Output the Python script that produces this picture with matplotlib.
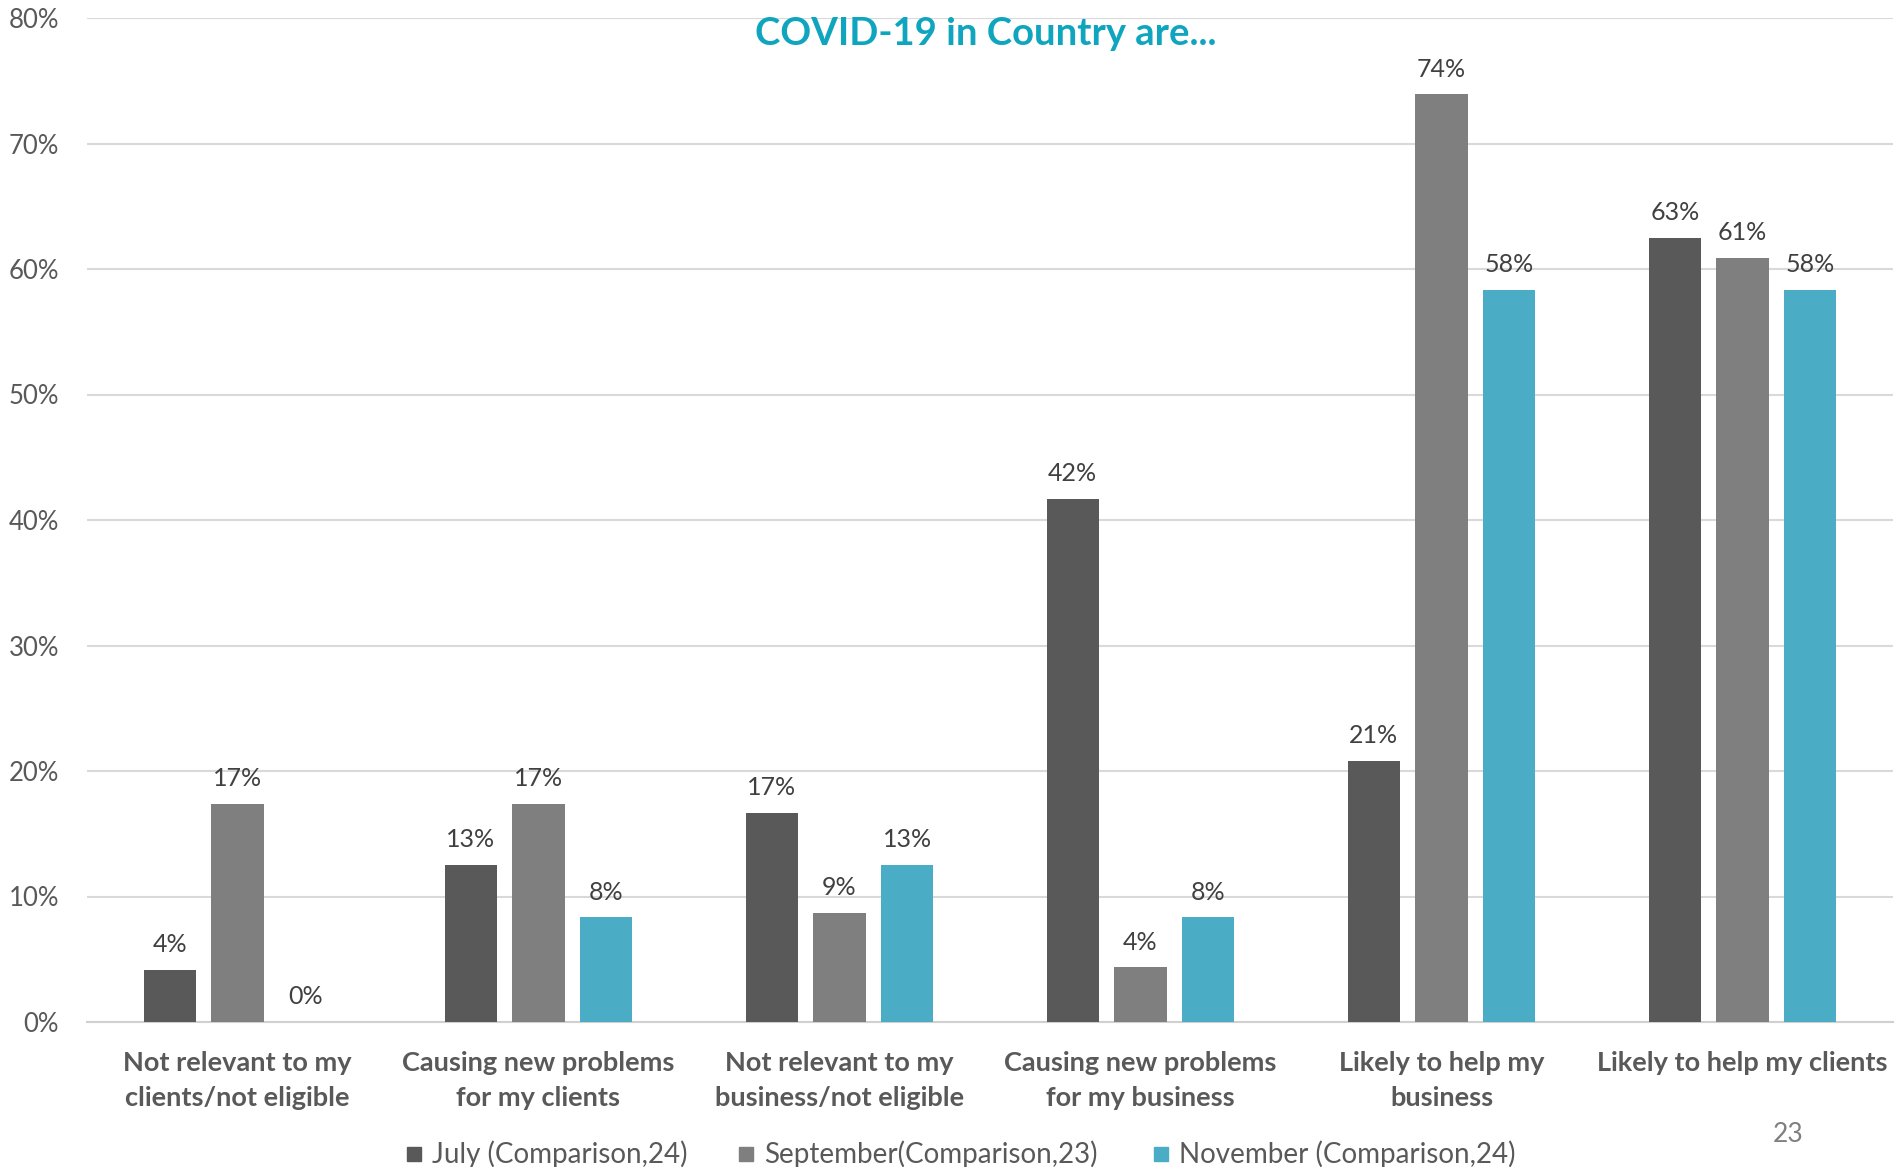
import numpy as np
import matplotlib.pyplot as plt
from matplotlib.patches import Rectangle

plt.rcParams['font.family'] = ['Lato', 'DejaVu Sans']

# data (percent)
categories = ["Not relevant to my\nclients/not eligible",
              "Causing new problems\nfor my clients",
              "Not relevant to my\nbusiness/not eligible",
              "Causing new problems\nfor my business",
              "Likely to help my\nbusiness",
              "Likely to help my clients"]
series_names = ["July (Comparison,24)", "September(Comparison,23)", "November (Comparison,24)"]
july = [4.17, 12.5, 16.67, 41.67, 20.83, 62.5]
september = [17.39, 17.39, 8.70, 4.35, 73.91, 60.87]
november = [0.0, 8.33, 12.5, 8.33, 58.33, 58.33]
colors = ["#595959", "#7f7f7f", "#4bacc6"]
yticks = [0, 10, 20, 30, 40, 50, 60, 70, 80]

W, H = 1897, 1167
fig = plt.figure(figsize=(W / 100, H / 100), dpi=100)
ax = fig.add_axes([87 / W, 1 - 1022 / H, (1893 - 87) / W, (1022 - 18) / H])

x = np.arange(len(categories))
width = 0.173
offset = 0.225
for i, (vals, c, name) in enumerate(zip([july, september, november], colors, series_names)):
    bars = ax.bar(x + (i - 1) * offset, vals, width, color=c, label=name, zorder=3)
    for b, v in zip(bars, vals):
        ax.annotate(f"{int(np.floor(v + 0.5))}%", (b.get_x() + b.get_width() / 2, v),
                    xytext=(0, 10), textcoords="offset points", ha="center", va="bottom",
                    fontsize=18, color="#404040")

ax.set_xlim(-0.5, 5.5)
ax.set_ylim(0, 80)
ax.set_yticks(yticks)
ax.set_yticklabels([f"{t}%" for t in yticks], fontsize=18.5, color="#595959")
ax.tick_params(axis="y", length=0, pad=20)
ax.set_xticks(x)
ax.set_xticklabels(categories, fontsize=19.5, fontweight="bold", color="#595959", linespacing=1.55)
ax.tick_params(axis="x", length=0, pad=21)
ax.grid(axis="y", color="#d9d9d9", linewidth=1.5, zorder=0)
for s in ["top", "right", "left"]:
    ax.spines[s].set_visible(False)
ax.spines["bottom"].set_color("#d0d0d0")
ax.spines["bottom"].set_linewidth(1.5)

fig.text(986 / W, 1 - 17 / H, "COVID-19 in Country are...", ha="center", va="top",
         fontsize=27.5, fontweight="bold", color="#10a5bf")

# legend
leg_x = [414, 746, 1161]
for lx, c, name in zip(leg_x, colors, series_names):
    fig.patches.append(Rectangle(((lx - 7) / W, 1 - 1161 / H), 14 / W, 14 / H,
                                 transform=fig.transFigure, color=c))
    fig.text((lx + 18) / W, 1 - 1154 / H, name, ha="left", va="center", fontsize=20,
             color="#595959", family=["Liberation Sans Narrow", "Lato"])

fig.text(1788 / W, 1 - 1134 / H, "23", ha="center", va="center", fontsize=19, color="#7f7f7f")

fig.savefig("out.png", dpi=100)
